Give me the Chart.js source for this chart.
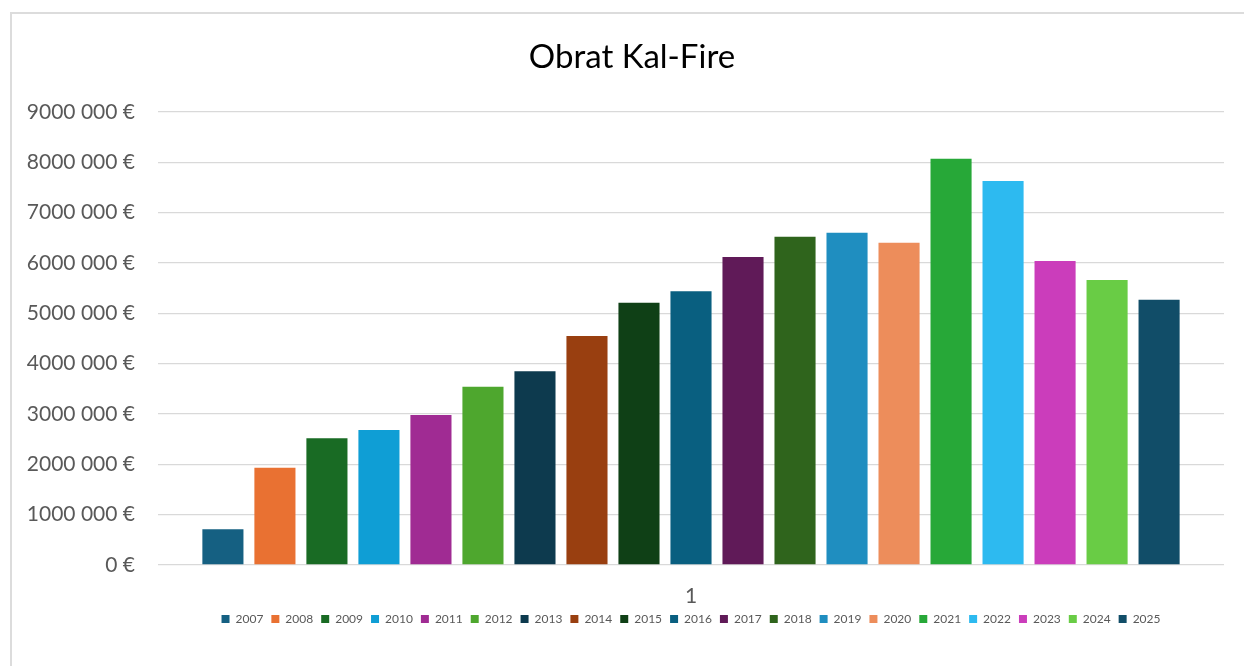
<!DOCTYPE html>
<html>
<head>
<meta charset="utf-8">
<script src="https://cdn.jsdelivr.net/npm/chart.js@4"></script>
<style>
  html, body { margin: 0; padding: 0; background: #fff; }
  #wrap { position: relative; width: 1244px; height: 666px; overflow: hidden; }
  #frame { position: absolute; left: 10px; top: 12px; width: 1260px; height: 700px; border: 2px solid #dcdcdc; box-sizing: border-box; }
  canvas { position: absolute; left: 0; top: 0; }
</style>
</head>
<body>
<div id="wrap">
  <div id="frame"></div>
  <canvas id="c" width="1244" height="666"></canvas>
</div>
<script>
const categories = ['1'];
const years = ['2007','2008','2009','2010','2011','2012','2013','2014','2015','2016','2017','2018','2019','2020','2021','2022','2023','2024','2025'];
const turnover = [710000, 1930000, 2520000, 2680000, 2980000, 3540000, 3850000, 4550000, 5210000, 5440000, 6120000, 6520000, 6600000, 6400000, 8070000, 7630000, 6040000, 5660000, 5270000];
const colors = ['#156082','#E97132','#196B24','#0F9ED5','#A02B93','#4EA72E','#0D3A4E','#993F10','#0F4016','#095F80','#601A58','#2F641C','#1F8EC0','#ED8D5B','#27A838','#2DBAF0','#CB3DBB','#69CC45','#114D68'];
const yMax = 9000000;
const yStep = 1000000;
const titleText = 'Obrat Kal-Fire';

function fmt(v) {
  if (v === 0) return '0 €';
  return (v / 1000) + ' 000 €';
}

function draw() {
  const datasets = years.map((y, i) => ({
    label: y,
    data: [turnover[i]],
    backgroundColor: colors[i],
    borderWidth: 0,
    categoryPercentage: 0.927,
    barPercentage: 0.79
  }));
  new Chart(document.getElementById('c'), {
    type: 'bar',
    data: { labels: categories, datasets },
    options: {
      responsive: false,
      animation: false,
      layout: { padding: { left: 20, right: 0, top: 0, bottom: 31 } },
      plugins: {
        title: {
          display: true,
          text: titleText,
          color: '#000',
          font: { family: 'Lato', size: 33, weight: 'normal' },
          padding: { top: 38, bottom: 34.4 }
        },
        legend: {
          position: 'bottom',
          fullSize: false,
          labels: {
            boxWidth: 8,
            boxHeight: 8,
            padding: 8,
            color: '#595959',
            font: { family: 'Lato', size: 12 }
          }
        },
        tooltip: { enabled: false }
      },
      scales: {
        x: {
          grid: { display: false, tickLength: 22 },
          border: { display: false },
          ticks: { color: '#595959', font: { family: 'Lato', size: 21, lineHeight: 0.857 }, padding: 0 }
        },
        y: {
          min: 0,
          max: yMax,
          ticks: { stepSize: yStep, color: '#595959', font: { family: 'Lato', size: 21 }, padding: 23, callback: fmt },
          grid: { color: '#d9d9d9', lineWidth: 1.3, drawTicks: false },
          border: { display: false },
          afterFit: (s) => { s.width = 138; }
        },
        y2: {
          type: 'linear',
          position: 'right',
          display: true,
          ticks: { display: false },
          grid: { display: false, drawTicks: false },
          border: { display: false },
          afterFit: (s) => { s.width = 20; }
        }
      }
    }
  });
}
if (document.fonts && document.fonts.load) {
  document.fonts.load('21px Lato').then(draw, draw);
} else { draw(); }
</script>
</body>
</html>
